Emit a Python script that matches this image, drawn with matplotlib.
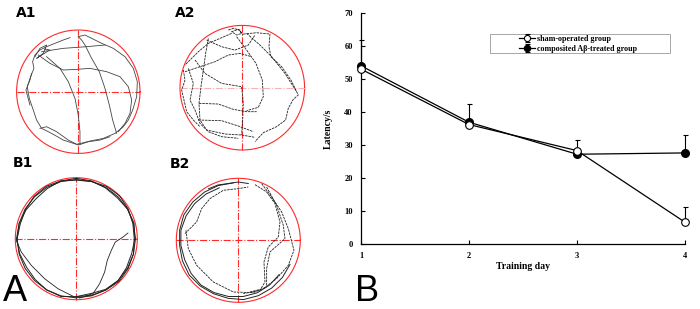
import matplotlib.pyplot as plt
from matplotlib.patches import Rectangle
import numpy as np

# ---- panel B data (latency, s) ----
days = [1, 2, 3, 4]
sham = [53.0, 36.2, 28.3, 6.6]
sham_err = [0, 0, 3.3, 4.6]
abeta = [54.0, 36.9, 27.2, 27.6]
abeta_err = [7.8, 5.4, 0, 5.5]
yticks = [0, 10, 20, 30, 40, 50, 60, 70]

# ---- panel A swim paths (pixel grid of each pool crop) ----
a1_paths = [
    [(180, 38), (160, 45), (135, 55), (110, 65), (90, 75), (75, 90), (68, 110), (72, 130), (62, 155),
     (52, 185), (58, 220), (70, 255), (80, 285), (95, 310), (125, 325), (160, 345), (200, 358),
     (240, 348), (280, 340), (315, 325), (340, 305), (355, 285), (368, 255), (380, 215), (382, 170),
     (370, 130), (345, 95), (310, 70), (275, 55), (245, 40), (225, 30), (205, 35)],
    [(205, 35), (215, 45), (225, 60), (245, 100), (268, 140), (285, 190), (298, 240), (308, 285), (320, 325)],
    [(95, 80), (160, 70), (230, 65), (285, 60)],
    [(85, 90), (120, 115), (160, 135), (200, 133), (240, 130), (290, 140), (330, 155), (355, 185),
     (365, 225), (360, 265), (345, 295), (325, 320)],
    [(110, 95), (150, 130), (175, 170), (195, 220), (205, 270), (210, 320), (210, 358)],
    [(90, 310), (110, 305), (140, 320), (175, 345), (205, 360), (235, 350), (270, 345), (300, 335)],
    [(75, 95), (90, 70), (110, 60), (100, 85), (80, 100), (95, 90), (120, 75), (105, 72)],
    [(65, 145), (60, 165), (48, 195), (60, 240)],
]
a2_paths = [
    [(160, 30), (175, 25), (195, 30), (200, 40), (185, 45), (170, 35), (190, 28), (205, 45)],
    [(170, 40), (135, 55), (100, 70), (70, 95), (45, 120), (30, 135)],
    [(100, 55), (92, 100), (85, 150), (78, 200), (72, 250), (75, 300), (95, 330), (150, 342),
     (200, 345), (240, 352)],
    [(205, 42), (245, 38), (285, 42), (282, 80), (288, 110), (320, 140), (348, 180), (370, 225),
     (355, 238), (340, 265), (332, 300), (305, 320), (265, 338), (240, 365)],
    [(185, 50), (215, 90), (243, 130), (262, 180), (265, 230), (250, 262), (215, 272)],
    [(30, 155), (75, 140), (120, 125), (160, 105), (195, 100), (230, 110)],
    [(60, 120), (90, 160), (140, 190), (200, 200), (205, 250), (203, 300), (200, 345)],
    [(72, 250), (130, 252), (175, 268), (215, 275), (245, 275)],
    [(70, 300), (140, 302), (190, 318), (235, 335)],
    [(25, 150), (30, 180), (20, 210), (28, 245), (35, 275), (55, 300), (75, 320)],
    [(215, 40), (255, 75), (290, 110), (330, 160), (365, 215)],
    [(95, 60), (140, 80), (180, 90), (220, 75), (240, 45)],
    [(40, 145), (55, 190), (45, 240), (60, 270), (75, 310), (100, 335), (140, 350), (190, 355)],
]
b1_paths = [
    [(360, 183), (345, 195), (322, 210), (310, 235), (298, 265), (290, 300), (275, 335), (255, 365), (215, 378)],
    [(25, 205), (40, 240), (70, 280), (110, 320), (150, 350), (200, 375)],
]
b2_paths = [
    [(45, 185), (60, 170), (80, 150), (95, 110), (120, 80), (160, 55), (205, 50), (235, 45)],
    [(255, 38), (290, 60), (315, 95), (330, 150), (325, 195), (295, 225), (282, 270), (285, 330),
     (270, 355), (220, 365)],
    [(275, 35), (305, 75), (335, 120), (355, 170), (372, 235), (355, 280), (320, 320), (280, 350), (240, 360)],
    [(290, 45), (320, 100), (340, 160), (345, 200), (300, 240), (290, 290), (290, 340)],
    [(48, 175), (55, 230), (80, 280), (130, 330), (190, 360), (250, 362), (290, 345)],
]
# wall-hugging loops: (angle deg, radius as fraction of pool)
b1_loops = [
    [(a, 0.97) for a in range(-90, 271, 15)],
    [(a, r) for a, r in zip(range(90, -271, -15),
                             [0.99, 0.98, 0.96, 0.95, 0.97, 0.98, 0.96, 0.94, 0.95, 0.97, 0.96, 0.93,
                              0.95, 0.98, 0.97, 0.95, 0.94, 0.96, 0.98, 0.97, 0.95, 0.93, 0.95, 0.98, 0.99])],
    [(a, r) for a, r in zip(range(-90, 181, 15),
                             [0.95, 0.96, 0.97, 0.99, 0.98, 0.97, 0.95, 0.96, 0.98, 1.0, 0.99, 0.97,
                              0.96, 0.98, 0.99, 0.98, 0.96, 0.95, 0.97])],
]
b2_loops = [
    [(a, r) for a, r in zip(range(95, 346, 15),
                             [0.93, 0.94, 0.95, 0.96, 0.97, 0.96, 0.95, 0.96, 0.97, 0.96, 0.95, 0.95,
                              0.96, 0.95, 0.94, 0.93, 0.92, 0.90])],
    [(a, r) for a, r in zip(range(110, 331, 15),
                             [0.90, 0.91, 0.92, 0.93, 0.94, 0.93, 0.92, 0.93, 0.94, 0.93, 0.92, 0.91,
                              0.90, 0.88, 0.86])],
    [(a, r) for a, r in zip(range(80, 121, 10), [0.93, 0.94, 0.93, 0.95, 0.96])],
]

pools = [
    # label, paths, loops, crop centre/radius, fig-pixel centre/radius, label pos, line style
    ("A1", a1_paths, [], (205, 200, 185), (78.3, 91.7, 61.7), (16, 17), "-"),
    ("A2", a2_paths, [], (202, 203, 187), (242.3, 87.7, 62.3), (175, 17), (0, (3, 1))),
    ("B1", b1_paths, b1_loops, (205, 200, 183), (76.3, 238.7, 61.0), (13, 167), "-"),
    ("B2", b2_paths, b2_loops, (205, 205, 186), (238.3, 240.3, 62.0), (170, 168), (0, (3, 1))),
]

W, H = 700, 309
fig = plt.figure(figsize=(W / 100, H / 100), dpi=100)

pad = 1.06
for lab, paths, loops, crop, pos, lpos, ls in pools:
    ccx, ccy, cr = crop
    px, py, pr = pos
    ax = fig.add_axes([(px - pr * pad) / W, 1 - (py + pr * pad) / H, 2 * pr * pad / W, 2 * pr * pad / H])
    ax.set_xlim(-pad, pad)
    ax.set_ylim(-pad, pad)
    ax.axis("off")
    t = np.linspace(0, 2 * np.pi, 200)
    ax.plot(np.cos(t), np.sin(t), color="#ff2a2a", lw=0.8)
    hcol = "#f5b5b5" if lab == "A2" else "#ff2a2a"
    ax.plot([-1, 1], [0, 0], color=hcol, lw=0.8, ls="-.")
    ax.plot([0, 0], [-1, 1], color="#ff2a2a", lw=0.8, ls="-.")
    pcol = "#444444" if lab == "A1" else "#222222"
    for p in paths:
        a = np.array(p, float)
        ax.plot((a[:, 0] - ccx) / cr, (ccy - a[:, 1]) / cr, color=pcol, lw=0.6, ls=ls)
    for lp in loops:
        a = np.array(lp, float)
        ang = np.radians(a[:, 0])
        ax.plot(a[:, 1] * np.cos(ang), a[:, 1] * np.sin(ang), color="#222222", lw=0.7)
    fig.text(lpos[0] / W, 1 - lpos[1] / H, lab, fontsize=10, fontweight="bold",
             family="DejaVu Sans", va="baseline", ha="left")

fig.text(3 / W, 1 - 301 / H, "A", fontsize=26, family="Liberation Sans", va="baseline")
fig.text(355 / W, 1 - 301 / H, "B", fontsize=26, family="Liberation Sans", va="baseline")

# ---- panel B line chart ----
ax = fig.add_axes([361 / W, 1 - 244 / H, 324 / W, 231 / H])
serif = "Liberation Serif"
ax.errorbar(days, abeta, yerr=[np.zeros(4), abeta_err], color="black", lw=0.9,
            marker="o", ms=5.5, mfc="black", mec="black", capsize=1.8, elinewidth=0.8,
            capthick=0.8, clip_on=False, zorder=3, label=u"composited A\u03b2-treated group")
ax.errorbar(days, sham, yerr=[np.zeros(4), sham_err], color="black", lw=0.9,
            marker="o", ms=5.5, mfc="white", mec="black", mew=0.8, capsize=1.8, elinewidth=0.8,
            capthick=0.8, clip_on=False, zorder=4, label="sham-operated group")
ax.set_xlim(1, 4)
ax.set_ylim(0, 70)
ax.set_xticks(days)
ax.set_yticks(yticks)
for s in ["top", "right"]:
    ax.spines[s].set_visible(False)
for s in ["left", "bottom"]:
    ax.spines[s].set_linewidth(0.9)
ax.tick_params(direction="in", length=3, width=0.8, labelsize=6)
ax.tick_params(axis="x", pad=6)
ax.tick_params(axis="y", pad=6)
for lbl in ax.get_xticklabels() + ax.get_yticklabels():
    lbl.set_family(serif)
    lbl.set_fontweight("bold")
ax.set_xlabel("Training day", family=serif, fontweight="bold", fontsize=7, labelpad=1)
ax.set_ylabel("Latency/s", family=serif, fontweight="bold", fontsize=7, labelpad=8)

# legend box is much wider than its entries in the original
fig.add_artist(Rectangle((490 / W, 1 - 53 / H), 180 / W, 19 / H, transform=fig.transFigure,
                         fill=False, ec="#999999", lw=0.6))
h, l = ax.get_legend_handles_labels()
leg = fig.legend(h[::-1], l[::-1], loc="upper left", bbox_to_anchor=(518 / W, 1 - 34 / H),
                 prop={"family": serif, "weight": "bold", "size": 5.8}, frameon=False,
                 handlelength=2.0, borderpad=0.1, labelspacing=0.3, handletextpad=0.2,
                 borderaxespad=0, markerscale=0.8)

fig.savefig("out.png", dpi=100)
